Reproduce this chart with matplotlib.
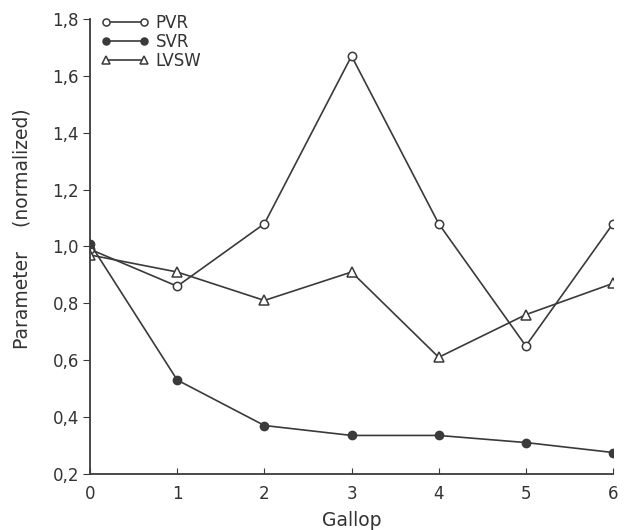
import matplotlib
matplotlib.use("Agg")
import matplotlib.pyplot as plt

gallop = [0, 1, 2, 3, 4, 5, 6]
pvr = [0.99, 0.86, 1.08, 1.67, 1.08, 0.65, 1.08]
svr = [1.01, 0.53, 0.37, 0.335, 0.335, 0.31, 0.275]
lvsw = [0.97, 0.91, 0.81, 0.91, 0.61, 0.76, 0.87]
yticks = [0.2, 0.4, 0.6, 0.8, 1.0, 1.2, 1.4, 1.6, 1.8]
ytick_labels = ["0,2", "0,4", "0,6", "0,8", "1,0", "1,2", "1,4", "1,6", "1,8"]

plt.rcParams['font.family'] = ['DejaVu Sans']
col = '#3a3a3a'

fig = plt.figure(figsize=(6.3, 5.3), dpi=100)
ax = fig.add_axes([0.143, 0.106, 0.830, 0.858])

ax.plot(gallop, pvr, color=col, lw=1.2, marker='o', ms=6, mfc='white', mec=col, mew=1.1, label='PVR')
ax.plot(gallop, svr, color=col, lw=1.2, marker='o', ms=6, mfc=col, mec=col, label='SVR')
ax.plot(gallop, lvsw, color=col, lw=1.2, marker='^', ms=7, mfc='white', mec=col, mew=1.1, label='LVSW')

ax.set_xlim(0, 6)
ax.set_ylim(0.2, 1.8)
ax.set_xticks(gallop)
ax.set_yticks(yticks)
ax.set_yticklabels(ytick_labels)
for s in ['top', 'right']:
    ax.spines[s].set_visible(False)
for s in ['left', 'bottom']:
    ax.spines[s].set_color(col)
    ax.spines[s].set_linewidth(1.3)
ax.tick_params(axis='y', direction='out', length=5, colors=col, labelsize=12, labelcolor='#333333', pad=3)
ax.tick_params(axis='x', direction='in', length=4, colors=col, labelsize=12, labelcolor='#333333', pad=8)
ax.set_xlabel('Gallop', fontsize=13.5, color='#333333', labelpad=6)
ax.set_ylabel('Parameter    (normalized)', fontsize=13.5, color='#333333')
ax.yaxis.set_label_coords(-0.112, 0.54)

leg = ax.legend(loc='upper left', bbox_to_anchor=(0.02, 1.012), frameon=False, fontsize=12,
                handlelength=2.9, handletextpad=0.4, labelspacing=0.08, borderaxespad=0,
                borderpad=0, numpoints=2, markerscale=0.85)
for t in leg.get_texts():
    t.set_color('#333333')

fig.savefig('out.png', dpi=100, facecolor='white')
